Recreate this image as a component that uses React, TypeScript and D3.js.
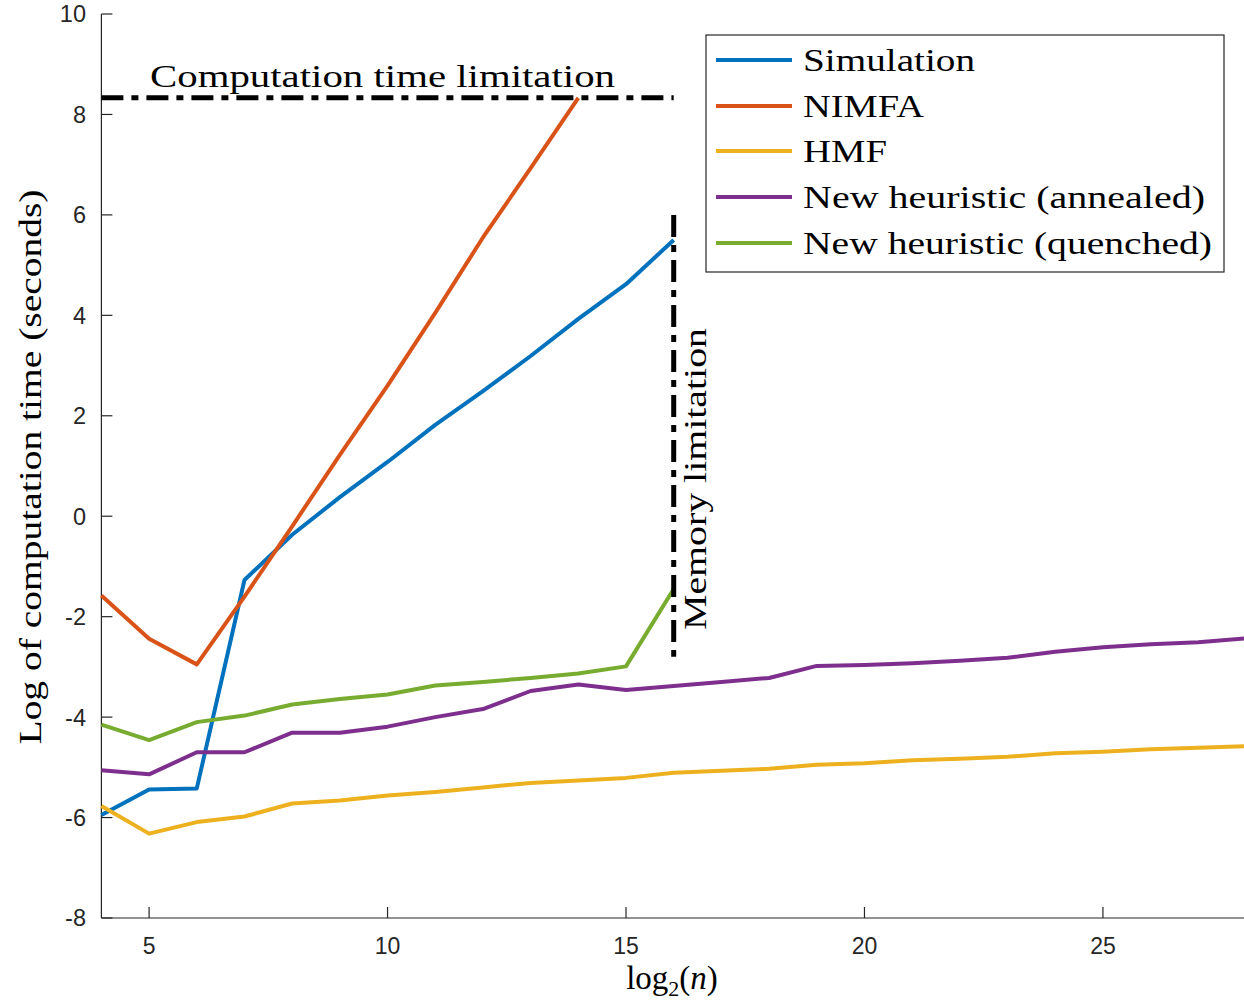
import React from "react";
import * as d3 from "d3";

const xs = [4, 5, 6, 7, 8, 9, 10, 11, 12, 13, 14, 15, 16, 17, 18, 19, 20, 21, 22, 23, 24, 25, 26, 27, 28];

const simulation = [-5.95, -5.44, -5.42, -1.27, -0.37, 0.38, 1.08, 1.82, 2.49, 3.19, 3.93, 4.62, 5.5];
const nimfa = [-1.58, -2.44, -2.95, -1.6, -0.2, 1.22, 2.6, 4.05, 5.55, 6.93, 8.33];
const hmf = [-5.77, -6.32, -6.09, -5.98, -5.72, -5.66, -5.56, -5.49, -5.4, -5.31, -5.26, -5.21, -5.11,
  -5.07, -5.03, -4.95, -4.92, -4.86, -4.83, -4.79, -4.72, -4.69, -4.64, -4.61, -4.58];
const annealed = [-5.06, -5.14, -4.7, -4.7, -4.31, -4.31, -4.19, -4.0, -3.84, -3.48, -3.35, -3.46, -3.38,
  -3.3, -3.22, -2.98, -2.96, -2.93, -2.88, -2.82, -2.7, -2.61, -2.55, -2.51, -2.43];
const quenched = [-4.15, -4.46, -4.1, -3.97, -3.75, -3.64, -3.55, -3.37, -3.3, -3.22, -3.13, -2.99, -1.45];

const seriesNames = ["Simulation", "NIMFA", "HMF", "New heuristic (annealed)", "New heuristic (quenched)"];
const seriesColors = ["#0072BD", "#D95319", "#EDB120", "#7E2F8E", "#77AC30"];
const seriesData = [simulation, nimfa, hmf, annealed, quenched];

const yTicks = [-8, -6, -4, -2, 0, 2, 4, 6, 8, 10];
const xTicks = [5, 10, 15, 20, 25];

const timeLimit = 8.33;
const timeLimitRange = [4, 16];
const memoryX = 16;
const memoryRange = [-2.8, 6];

export default function App() {
  const W = 1244, H = 1003;
  const x = d3.scaleLinear().domain([4, 28]).range([101.4, 1246]);
  const y = d3.scaleLinear().domain([-8, 10]).range([918, 14]);
  const line = d3.line<number>().x((_, i) => x(xs[i])).y((d) => y(d));
  const axisColor = "#262626";
  const serif = "'Liberation Serif', 'DejaVu Serif', serif";
  const sans = "'Liberation Sans', Arial, sans-serif";
  const dash = "22,8,7,8";

  const legendRows = [60, 106, 151, 197, 243];
  const legendWidths = [172, 121, 84, 402, 409];

  return (
    <svg width={W} height={H} style={{ position: "absolute", left: 0, top: 0, background: "#fff" }}>
      <rect x={0} y={0} width={W} height={H} fill="#fff" />
      {/* axes */}
      <line x1={x(4)} x2={x(4)} y1={y(10)} y2={y(-8)} stroke={axisColor} strokeWidth={1.2} />
      <line x1={x(4)} x2={W} y1={y(-8)} y2={y(-8)} stroke={axisColor} strokeWidth={1.2} />
      {yTicks.map((t) => (
        <g key={"y" + t}>
          <line x1={x(4)} x2={x(4) + 11} y1={y(t)} y2={y(t)} stroke={axisColor} strokeWidth={1.2} />
          <text x={86} y={y(t)} dy="0.36em" textAnchor="end" fontFamily={sans} fontSize={23.5} fill={axisColor}>
            {t}
          </text>
        </g>
      ))}
      {xTicks.map((t) => (
        <g key={"x" + t}>
          <line x1={x(t)} x2={x(t)} y1={y(-8)} y2={y(-8) - 11} stroke={axisColor} strokeWidth={1.2} />
          <text x={x(t)} y={954} textAnchor="middle" fontFamily={sans} fontSize={23} fill={axisColor}>
            {t}
          </text>
        </g>
      ))}
      {/* axis labels */}
      <text
        transform={`translate(41,467) rotate(-90)`}
        textAnchor="middle"
        fontFamily={serif}
        fontSize={32}
        fill="#000"
        textLength={555}
        lengthAdjust="spacingAndGlyphs"
      >
        Log of computation time (seconds)
      </text>
      <text x={672} y={989} textAnchor="middle" fontFamily={serif} fontSize={33} fill="#000">
        log<tspan fontSize={22} dy={7}>2</tspan>
        <tspan dy={-7}>(</tspan>
        <tspan fontStyle="italic">n</tspan>)
      </text>

      {/* series */}
      {seriesData.map((d, i) => (
        <path key={seriesNames[i]} d={line(d) || ""} fill="none" stroke={seriesColors[i]} strokeWidth={4} strokeLinejoin="round" />
      ))}

      {/* limitation lines */}
      <line
        x1={x(timeLimitRange[0])}
        x2={x(timeLimitRange[1])}
        y1={y(timeLimit)}
        y2={y(timeLimit)}
        stroke="#000"
        strokeWidth={5}
        strokeDasharray={dash}
      />
      <text x={150} y={87} fontFamily={serif} fontSize={32} fill="#000" textLength={465} lengthAdjust="spacingAndGlyphs">
        Computation time limitation
      </text>
      <line
        x1={x(memoryX)}
        x2={x(memoryX)}
        y1={y(memoryRange[1])}
        y2={y(memoryRange[0])}
        stroke="#000"
        strokeWidth={5}
        strokeDasharray={dash}
      />
      <text
        transform={`translate(706,479) rotate(-90)`}
        textAnchor="middle"
        fontFamily={serif}
        fontSize={32}
        fill="#000"
        textLength={302}
        lengthAdjust="spacingAndGlyphs"
      >
        Memory limitation
      </text>

      {/* legend */}
      <rect x={706} y={35} width={518} height={237} fill="#fff" stroke={axisColor} strokeWidth={1.2} />
      {seriesNames.map((n, i) => (
        <g key={"leg" + n}>
          <line x1={716} x2={792} y1={legendRows[i]} y2={legendRows[i]} stroke={seriesColors[i]} strokeWidth={4} />
          <text
            x={803}
            y={legendRows[i]}
            dy="0.33em"
            fontFamily={serif}
            fontSize={32}
            fill="#000"
            textLength={legendWidths[i]}
            lengthAdjust="spacingAndGlyphs"
          >
            {n}
          </text>
        </g>
      ))}
    </svg>
  );
}
